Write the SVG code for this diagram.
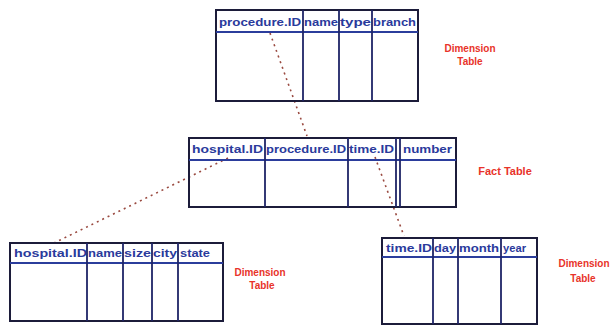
<svg xmlns="http://www.w3.org/2000/svg" width="614" height="326" viewBox="0 0 614 326">
<style>
.box{fill:none;stroke:#1c1c3a;stroke-width:2}
.hdr{stroke:#2b3d9c;stroke-width:1.8}
.col{stroke:#1f2466;stroke-width:1.8}
.h{font-family:"Liberation Sans",Arial,sans-serif;font-weight:bold;font-size:11.5px;fill:#2a3a9c}
.lbl{font-family:"Liberation Sans",Arial,sans-serif;font-weight:bold;font-size:10px;fill:#e8332a;text-anchor:middle}
.dash{fill:none;stroke:#9a4a40;stroke-width:1.6;stroke-dasharray:2 4}
</style>
<rect width="614" height="326" fill="#ffffff"/>
<g id="connectors">
<line class="dash" x1="270" y1="33" x2="307" y2="136"/>
<line class="dash" x1="228" y1="158" x2="52" y2="244"/>
<line class="dash" x1="375" y1="157" x2="404" y2="236"/>
</g>
<g id="procedure-dim">
<rect class="box" x="216" y="10" width="202" height="91"/>
<line class="hdr" x1="216" y1="32" x2="418" y2="32"/>
<line class="col" x1="303" y1="10" x2="303" y2="101"/>
<line class="col" x1="339" y1="10" x2="339" y2="101"/>
<line class="col" x1="372" y1="10" x2="372" y2="101"/>
<text class="h" x="219" y="26" textLength="82" lengthAdjust="spacingAndGlyphs">procedure.ID</text>
<text class="h" x="304" y="26" textLength="34" lengthAdjust="spacingAndGlyphs">name</text>
<text class="h" x="340" y="26" textLength="31" lengthAdjust="spacingAndGlyphs">type</text>
<text class="h" x="373" y="26" textLength="43" lengthAdjust="spacingAndGlyphs">branch</text>
<text class="lbl" x="470" y="52">Dimension</text>
<text class="lbl" x="470" y="65">Table</text>
</g>
<g id="fact">
<rect class="box" x="189" y="138" width="267" height="69"/>
<line class="hdr" x1="189" y1="160" x2="456" y2="160"/>
<line class="col" x1="265" y1="138" x2="265" y2="207"/>
<line class="col" x1="348" y1="138" x2="348" y2="207"/>
<line class="col" x1="396" y1="138" x2="396" y2="207"/>
<line class="col" x1="400" y1="138" x2="400" y2="207"/>
<text class="h" x="192" y="153" textLength="71" lengthAdjust="spacingAndGlyphs">hospital.ID</text>
<text class="h" x="266" y="153" textLength="80" lengthAdjust="spacingAndGlyphs">procedure.ID</text>
<text class="h" x="349" y="153" textLength="45" lengthAdjust="spacingAndGlyphs">time.ID</text>
<text class="h" x="403" y="153" textLength="49" lengthAdjust="spacingAndGlyphs">number</text>
<text class="lbl" x="505" y="175" style="font-size:11px">Fact Table</text>
</g>
<g id="hospital-dim">
<rect class="box" x="10" y="243" width="213" height="78"/>
<line class="hdr" x1="10" y1="263" x2="223" y2="263"/>
<line class="col" x1="87" y1="243" x2="87" y2="321"/>
<line class="col" x1="123" y1="243" x2="123" y2="321"/>
<line class="col" x1="152" y1="243" x2="152" y2="321"/>
<line class="col" x1="178" y1="243" x2="178" y2="321"/>
<text class="h" x="14" y="257" textLength="73" lengthAdjust="spacingAndGlyphs">hospital.ID</text>
<text class="h" x="88" y="257" textLength="34" lengthAdjust="spacingAndGlyphs">name</text>
<text class="h" x="124" y="257" textLength="27" lengthAdjust="spacingAndGlyphs">size</text>
<text class="h" x="153" y="257" textLength="24" lengthAdjust="spacingAndGlyphs">city</text>
<text class="h" x="180" y="257" textLength="30" lengthAdjust="spacingAndGlyphs">state</text>
<text class="lbl" x="260" y="276">Dimension</text>
<text class="lbl" x="262" y="289">Table</text>
</g>
<g id="time-dim">
<rect class="box" x="382" y="238" width="155" height="86"/>
<line class="hdr" x1="382" y1="257" x2="537" y2="257"/>
<line class="col" x1="433" y1="238" x2="433" y2="324"/>
<line class="col" x1="458" y1="238" x2="458" y2="324"/>
<line class="col" x1="501" y1="238" x2="501" y2="324"/>
<text class="h" x="386" y="252" textLength="46" lengthAdjust="spacingAndGlyphs">time.ID</text>
<text class="h" x="434" y="252" textLength="22" lengthAdjust="spacingAndGlyphs">day</text>
<text class="h" x="459" y="252" textLength="40" lengthAdjust="spacingAndGlyphs">month</text>
<text class="h" x="503" y="252" textLength="23" lengthAdjust="spacingAndGlyphs">year</text>
<text class="lbl" x="584" y="267">Dimension</text>
<text class="lbl" x="583" y="282">Table</text>
</g>
</svg>
